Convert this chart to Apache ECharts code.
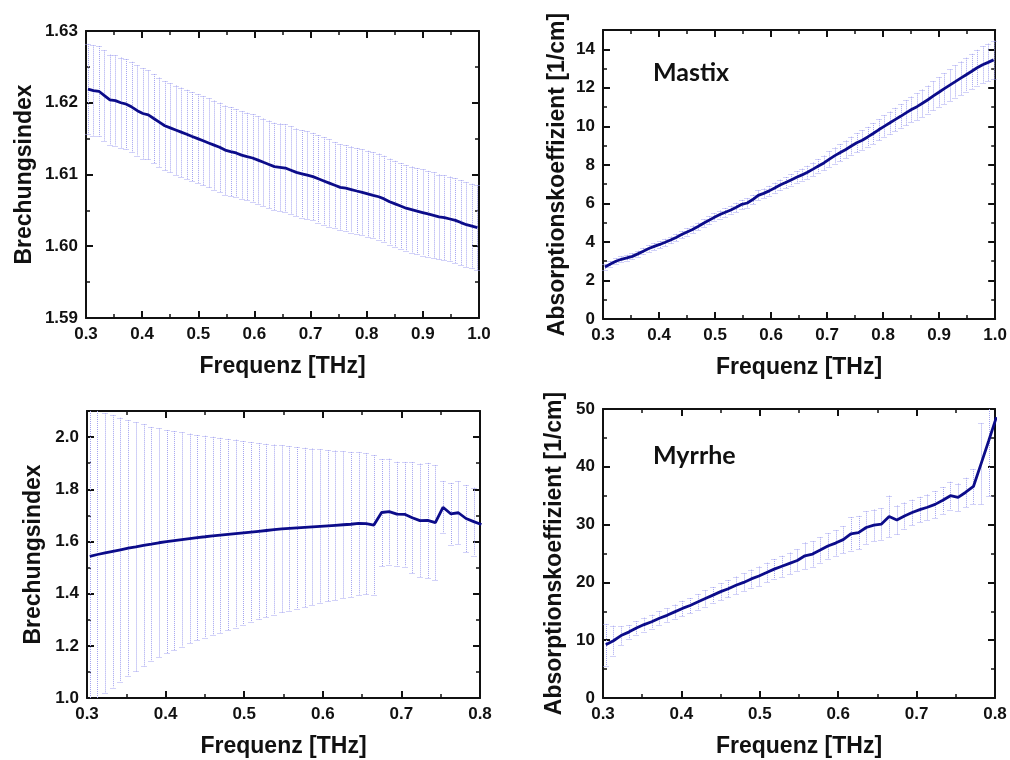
<!DOCTYPE html>
<html><head><meta charset="utf-8">
<script src="https://cdn.jsdelivr.net/npm/echarts@6/dist/echarts.min.js"></script>
<style>html,body{margin:0;padding:0;background:#fff}#c{width:1010px;height:760px}</style>
</head><body><div id="c"></div>
<script>
// ---- data ----
const freqTop = [0.3035,0.3133,0.3230,0.3328,0.3426,0.3524,0.3621,0.3719,0.3817,0.3914,
0.4012,0.4110,0.4207,0.4305,0.4403,0.4501,0.4598,0.4696,0.4794,0.4891,
0.4989,0.5087,0.5184,0.5282,0.5380,0.5478,0.5575,0.5673,0.5771,0.5868,
0.5966,0.6064,0.6161,0.6259,0.6357,0.6455,0.6552,0.6650,0.6748,0.6845,
0.6943,0.7041,0.7138,0.7236,0.7334,0.7432,0.7529,0.7627,0.7725,0.7822,
0.7920,0.8018,0.8115,0.8213,0.8311,0.8408,0.8506,0.8604,0.8701,0.8799,
0.8897,0.8995,0.9092,0.9190,0.9288,0.9385,0.9483,0.9581,0.9678,0.9776,
0.9874,0.9972];
const freqBottom = [0.3035,0.3133,0.3230,0.3328,0.3426,0.3524,0.3621,0.3719,0.3817,0.3914,
0.4012,0.4110,0.4207,0.4305,0.4403,0.4501,0.4598,0.4696,0.4794,0.4891,
0.4989,0.5087,0.5184,0.5282,0.5380,0.5478,0.5575,0.5673,0.5771,0.5868,
0.5966,0.6064,0.6161,0.6259,0.6357,0.6455,0.6552,0.6650,0.6748,0.6845,
0.6943,0.7041,0.7138,0.7236,0.7334,0.7432,0.7529,0.7627,0.7725,0.7822,
0.7920,0.8018];

const mastixIndex = [1.6219,1.6217,1.6216,1.6210,1.6204,1.6203,1.6200,1.6198,1.6194,1.6189,
1.6185,1.6183,1.6178,1.6173,1.6168,1.6165,1.6162,1.6159,1.6156,1.6153,
1.6150,1.6147,1.6144,1.6141,1.6138,1.6134,1.6132,1.6130,1.6127,1.6125,
1.6123,1.6120,1.6117,1.6114,1.6111,1.6110,1.6109,1.6106,1.6103,1.6101,
1.6099,1.6097,1.6094,1.6091,1.6088,1.6085,1.6082,1.6081,1.6079,1.6077,
1.6075,1.6073,1.6071,1.6069,1.6066,1.6062,1.6059,1.6056,1.6053,1.6051,
1.6049,1.6047,1.6045,1.6043,1.6041,1.6040,1.6038,1.6036,1.6033,1.6030,
1.6028,1.6026];
const mastixIndexErr = [0.0063,0.0063,0.0063,0.0063,0.0063,0.0063,0.0063,0.0063,0.0063,0.0063,
0.0063,0.0062,0.0062,0.0062,0.0062,0.0062,0.0062,0.0062,0.0062,0.0062,
0.0062,0.0062,0.0062,0.0062,0.0062,0.0062,0.0062,0.0061,0.0061,0.0061,
0.0061,0.0061,0.0061,0.0061,0.0061,0.0061,0.0061,0.0061,0.0061,0.0061,
0.0061,0.0061,0.0061,0.0061,0.0061,0.0060,0.0060,0.0060,0.0060,0.0060,
0.0060,0.0060,0.0060,0.0060,0.0060,0.0060,0.0060,0.0060,0.0060,0.0060,
0.0060,0.0060,0.0060,0.0060,0.0059,0.0059,0.0059,0.0059,0.0059,0.0059,
0.0059,0.0059];

const mastixAbs = [2.70,2.85,3.00,3.10,3.17,3.25,3.38,3.52,3.66,3.77,
3.87,3.98,4.10,4.23,4.38,4.52,4.65,4.80,4.97,5.12,
5.28,5.42,5.54,5.66,5.80,5.95,6.02,6.20,6.42,6.52,
6.65,6.80,6.95,7.08,7.22,7.36,7.48,7.62,7.78,7.94,
8.10,8.30,8.48,8.64,8.80,8.98,9.15,9.28,9.45,9.63,
9.82,10.00,10.17,10.35,10.52,10.70,10.87,11.02,11.20,11.38,
11.58,11.77,11.96,12.14,12.32,12.50,12.68,12.86,13.04,13.20,
13.32,13.45];
const mastixAbsErr = [0.15,0.15,0.15,0.15,0.16,0.16,0.16,0.17,0.17,0.17,
0.18,0.18,0.18,0.19,0.19,0.19,0.20,0.20,0.20,0.21,
0.21,0.21,0.22,0.22,0.23,0.23,0.24,0.24,0.25,0.25,
0.26,0.27,0.28,0.29,0.30,0.31,0.32,0.33,0.34,0.36,
0.38,0.40,0.42,0.44,0.46,0.48,0.50,0.51,0.52,0.54,
0.55,0.57,0.59,0.61,0.63,0.65,0.67,0.69,0.71,0.73,
0.75,0.77,0.79,0.81,0.84,0.86,0.88,0.90,0.93,0.95,
0.97,1.00];

const myrrheIndex = [1.543,1.550,1.556,1.562,1.568,1.574,1.579,1.585,1.590,1.595,
1.599,1.603,1.607,1.611,1.615,1.618,1.621,1.624,1.627,1.630,
1.633,1.636,1.639,1.642,1.645,1.648,1.650,1.652,1.654,1.656,
1.658,1.660,1.662,1.664,1.666,1.669,1.668,1.663,1.711,1.714,
1.705,1.704,1.691,1.680,1.681,1.672,1.731,1.706,1.710,1.688,
1.676,1.665];
const myrrheIndexErr = [0.600,0.560,0.535,0.522,0.506,0.491,0.477,0.464,0.448,0.438,
0.428,0.420,0.411,0.402,0.393,0.387,0.380,0.373,0.366,0.360,
0.352,0.345,0.338,0.332,0.326,0.320,0.315,0.310,0.305,0.300,
0.295,0.290,0.286,0.281,0.277,0.273,0.270,0.268,0.205,0.203,
0.200,0.200,0.213,0.218,0.220,0.220,0.100,0.118,0.120,0.128,
0.130,0.128];

const myrrheAbs = [9.2,9.9,10.8,11.4,12.1,12.7,13.2,13.8,14.3,14.9,
15.5,16.0,16.6,17.2,17.8,18.4,18.9,19.5,20.0,20.6,
21.1,21.7,22.3,22.8,23.3,23.8,24.6,24.9,25.6,26.3,
26.8,27.4,28.4,28.6,29.5,29.9,30.1,31.4,30.8,31.5,
32.1,32.6,33.0,33.5,34.2,35.0,34.7,35.6,36.6,40.5,
44.5,48.6];
const myrrheAbsErr = [3.6,2.6,1.6,1.2,1.2,1.2,1.2,1.2,1.2,1.25,
1.3,1.3,1.35,1.4,1.4,1.45,1.5,1.5,1.55,1.6,
1.65,1.7,1.75,1.8,1.85,1.9,2.3,2.2,2.2,2.2,
2.2,2.3,2.9,2.9,2.8,2.7,2.7,3.6,2.5,2.3,
2.2,2.2,2.2,2.3,2.3,2.4,2.4,2.5,3.0,7.0,
9.6,13.0];

const xLabel = 'Frequenz [THz]';
const nLabel = 'Brechungsindex';
const aLabel = 'Absorptionskoeffizient [1/cm]';
const panelLabels = ['Mastix', 'Myrrhe'];

// ---- chart ----
const LINE = '#0c0c8a';
const ERR = '#a4a4f0';
const FONT = 'Liberation Sans, Arial, sans-serif';

const panels = [
  {grid:{left:86, top:31, width:393, height:287}, x:freqTop, y:mastixIndex, e:mastixIndexErr,
   xr:[0.3,1.0,0.1], yr:[1.59,1.63,0.01], yd:2, yName:nLabel, yGap:50},
  {grid:{left:603, top:30, width:394, height:289}, x:freqTop, y:mastixAbs, e:mastixAbsErr,
   xr:[0.3,1.0,0.1], yr:[0,15,2], yd:0, yName:aLabel, yGap:34},
  {grid:{left:87, top:411, width:393, height:287}, x:freqBottom, y:myrrheIndex, e:myrrheIndexErr,
   xr:[0.3,0.8,0.1], yr:[1.0,2.1,0.2], yd:1, yName:nLabel, yGap:42},
  {grid:{left:603, top:409, width:392, height:289}, x:freqBottom, y:myrrheAbs, e:myrrheAbsErr,
   xr:[0.3,0.8,0.1], yr:[0,50,10], yd:0, yName:aLabel, yGap:37}
];

const grids = [], xAxes = [], yAxes = [], series = [];
const axisLine = {show:true, onZero:false, lineStyle:{color:'#111', width:2}};
const tick = {show:true, inside:true, length:7, lineStyle:{color:'#111', width:2}};
const minor = {show:true, splitNumber:2, length:4, lineStyle:{color:'#111', width:1.5}};
const lblStyle = {color:'#111', fontFamily:FONT, fontWeight:'bold', fontSize:17};
const nameStyle = {color:'#111', fontFamily:FONT, fontWeight:'bold', fontSize:23};

function errRender(params, api) {
  const x = api.value(0), lo = api.value(1), hi = api.value(2);
  const pLo = api.coord([x, lo]);
  const pHi = api.coord([x, hi]);
  const cs = params.coordSys;
  const top = cs.y, bot = cs.y + cs.height;
  const px = Math.round(pLo[0]) + 0.5;
  if (px < cs.x || px > cs.x + cs.width) return;
  const st = {stroke:ERR, lineWidth:1, lineDash:[1,1], fill:null};
  const y1 = Math.max(pHi[1], top), y2 = Math.min(pLo[1], bot);
  const ch = [{type:'line', shape:{x1:px, y1:y1, x2:px, y2:y2}, style:st}];
  const cw = 3;
  if (pHi[1] >= top) ch.push({type:'line', shape:{x1:px-cw, y1:Math.round(pHi[1])+0.5, x2:px+cw, y2:Math.round(pHi[1])+0.5}, style:st});
  if (pLo[1] <= bot) ch.push({type:'line', shape:{x1:px-cw, y1:Math.round(pLo[1])+0.5, x2:px+cw, y2:Math.round(pLo[1])+0.5}, style:st});
  return {type:'group', children:ch};
}

panels.forEach((p, i) => {
  grids.push(p.grid);
  const common = {type:'value', gridIndex:i, min:p.xr[0], max:p.xr[1], interval:p.xr[2],
    axisLine, axisTick:tick, minorTick:minor, splitLine:{show:false}};
  xAxes.push(Object.assign({}, common, {position:'bottom',
    name:xLabel, nameLocation:'middle', nameGap:37, nameTextStyle:nameStyle,
    axisLabel:Object.assign({}, lblStyle, {margin:8, formatter:v=>v.toFixed(1)})}));
  xAxes.push(Object.assign({}, common, {position:'top', axisLabel:{show:false}}));
  const ycommon = {type:'value', gridIndex:i, min:p.yr[0], max:p.yr[1], interval:p.yr[2],
    axisLine, axisTick:tick, minorTick:minor, splitLine:{show:false}};
  const hideMax = (i === 1 || i === 2);
  yAxes.push(Object.assign({}, ycommon, {position:'left',
    name:p.yName, nameLocation:'middle', nameGap:p.yGap, nameRotate:90, nameTextStyle:nameStyle,
    axisLabel:Object.assign({}, lblStyle, {margin:8, showMaxLabel:!hideMax, formatter:v=>v.toFixed(p.yd)})}));
  yAxes.push(Object.assign({}, ycommon, {position:'right', axisLabel:{show:false}}));
  series.push({type:'custom', xAxisIndex:2*i, yAxisIndex:2*i, renderItem:errRender, silent:true, z:1,
    data:p.x.map((xv, k) => [xv, p.y[k]-p.e[k], p.y[k]+p.e[k]])});
  series.push({type:'line', xAxisIndex:2*i, yAxisIndex:2*i, showSymbol:false, symbol:'none', z:3, silent:true,
    clip:true, lineStyle:{color:LINE, width:2.8}, data:p.x.map((xv, k) => [xv, p.y[k]])});
});

const chart = echarts.init(document.getElementById('c'), null, {renderer:'canvas'});
chart.setOption({
  backgroundColor:'#fff',
  animation:false,
  grid:grids, xAxis:xAxes, yAxis:yAxes, series:series,
  graphic:[
    {type:'text', left:653, top:60, style:{text:panelLabels[0], fill:'#111', font:'bold 25px Lato, sans-serif'}},
    {type:'text', left:653, top:443, style:{text:panelLabels[1], fill:'#111', font:'bold 25px Lato, sans-serif'}}
  ]
});
</script></body></html>
